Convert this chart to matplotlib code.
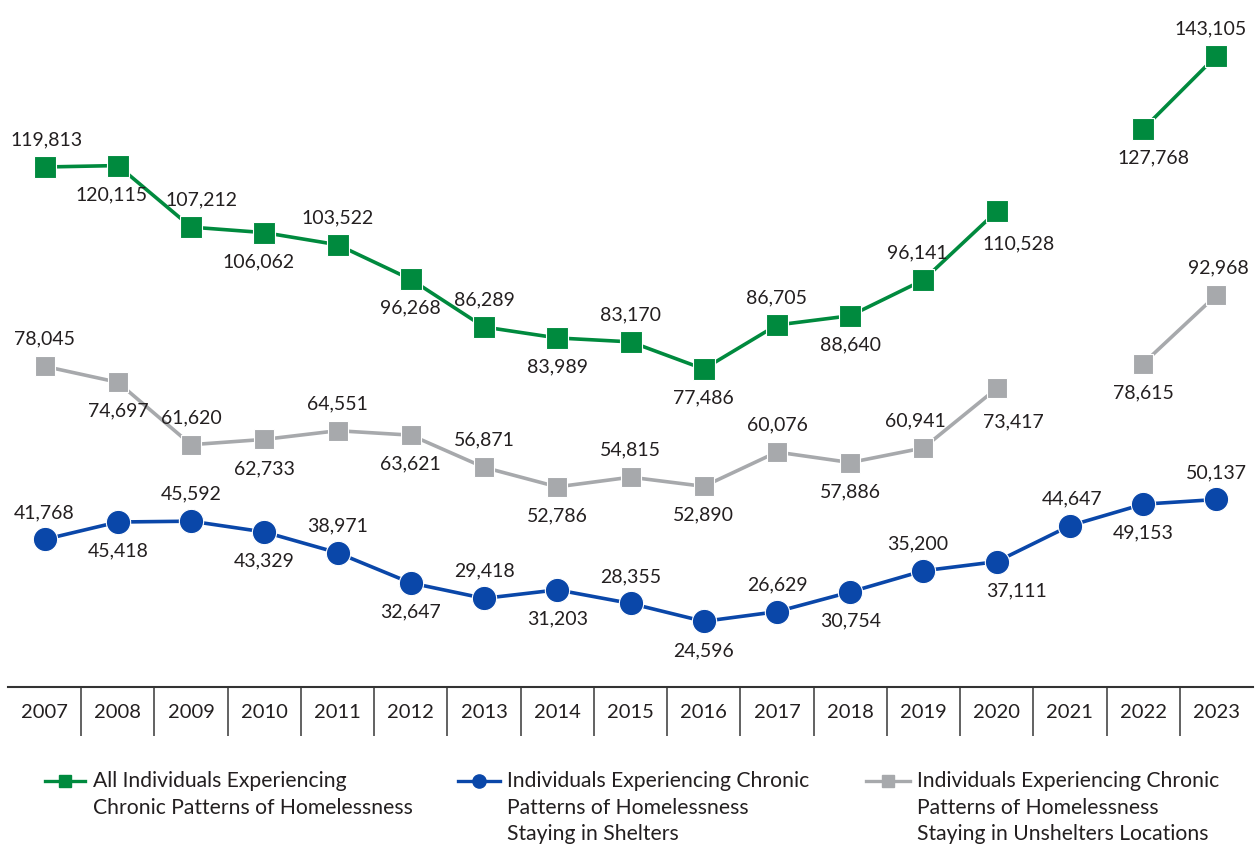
import matplotlib
matplotlib.use("Agg")
import matplotlib.pyplot as plt
from matplotlib.lines import Line2D
import numpy as np

plt.rcParams['font.family'] = ['Lato', 'DejaVu Sans']

years = [str(y) for y in range(2007, 2024)]

all_chronic = [119813, 120115, 107212, 106062, 103522, 96268, 86289, 83989, 83170,
               77486, 86705, 88640, 96141, 110528, None, 127768, 143105]
sheltered = [41768, 45418, 45592, 43329, 38971, 32647, 29418, 31203, 28355,
             24596, 26629, 30754, 35200, 37111, 44647, 49153, 50137]
unsheltered = [78045, 74697, 61620, 62733, 64551, 63621, 56871, 52786, 54815,
               52890, 60076, 57886, 60941, 73417, None, 78615, 92968]

# label placement: a = above, b = below, r = below-right
pos_all = ['a', 'b', 'a', 'b', 'a', 'b', 'a', 'b', 'a', 'b', 'a', 'b', 'a', 'r', None, 'b', 'a']
pos_shel = ['a', 'b', 'a', 'b', 'a', 'b', 'a', 'b', 'a', 'b', 'a', 'b', 'a', 'b', 'a', 'b', 'a']
pos_unsh = ['a', 'b', 'a', 'b', 'a', 'b', 'a', 'b', 'a', 'b', 'a', 'b', 'a', 'r', None, 'b', 'a']

# horizontal nudges of labels (pixels)
dx_all = [2, -6, 10, -6, 0, 0, 0, 0, 0, 0, 0, 0, -6, 0, 0, 10, -6]
dx_shel = [0, 0, 0, 0, 0, 0, 0, 0, 0, 0, 0, 0, -6, 20, 2, 0, 0]
dx_unsh = [0, 0, 0, 0, 0, 0, 0, 0, 0, 0, 0, 0, -8, 0, 0, 0, 2]

legend_labels = [
    "All Individuals Experiencing\nChronic Patterns of Homelessness",
    "Individuals Experiencing Chronic\nPatterns of Homelessness\nStaying in Shelters",
    "Individuals Experiencing Chronic\nPatterns of Homelessness\nStaying in Unshelters Locations",
]

GREEN = '#008A3E'
BLUE = '#0A47A9'
GRAY = '#A7A9AC'
TXT = '#231F20'

W, H = 1259, 844
fig = plt.figure(figsize=(W / 100, H / 100), dpi=100)
ax = fig.add_axes([8 / W, 1 - 687 / H, 1245 / W, 687 / H])
ax.set_xlim(-0.5, 16.5)
ax.set_ylim(10844, 154809)

x = np.arange(len(years))


def to_arr(v):
    return np.array([np.nan if e is None else e for e in v], dtype=float)


series = [
    (all_chronic, pos_all, dx_all, GREEN, 's', 16),
    (unsheltered, pos_unsh, dx_unsh, GRAY, 's', 14.5),
    (sheltered, pos_shel, dx_shel, BLUE, 'o', 17.5),
]

for vals, pos, dxs, col, mk, ms in series:
    arr = to_arr(vals)
    ax.plot(x, arr, color=col, lw=2.6, marker=mk, ms=ms, mfc=col,
            mec='white', mew=0.8, zorder=3)
    for xi, v, p, dx in zip(x, vals, pos, dxs):
        if v is None:
            continue
        s = f"{v:,}"
        if p == 'a':
            ax.annotate(s, (xi, v), xytext=(dx, 27), textcoords='offset pixels',
                        ha='center', va='center', fontsize=14, color=TXT)
        elif p == 'b':
            ax.annotate(s, (xi, v), xytext=(dx, -29), textcoords='offset pixels',
                        ha='center', va='center', fontsize=14, color=TXT)
        else:
            ax.annotate(s, (xi, v), xytext=(-14 + dx, -33), textcoords='offset pixels',
                        ha='left', va='center', fontsize=14, color=TXT)

for sp in ['top', 'right', 'left']:
    ax.spines[sp].set_visible(False)
ax.spines['bottom'].set_color('#333333')
ax.spines['bottom'].set_linewidth(1.5)
ax.set_yticks([])
ax.set_xticks(x)
ax.set_xticklabels(years, fontsize=14.5, color=TXT)
ax.tick_params(axis='x', which='major', length=0, pad=12)
ax.set_xticks(np.arange(0.5, 16, 1), minor=True)
ax.tick_params(axis='x', which='minor', length=35, width=1.3, color='#555555')

# legend
leg = [
    (45, 85, 93, GREEN, 's', 9),
    (458, 500, 507, BLUE, 'o', 9.5),
    (866, 910, 917, GRAY, 's', 9),
]
ly = 781
for (x0, x1, tx, col, mk, ms), lab in zip(leg, legend_labels):
    fig.add_artist(Line2D([x0 / W, x1 / W], [1 - ly / H, 1 - ly / H],
                          transform=fig.transFigure, color=col, lw=2.4))
    fig.add_artist(Line2D([(x0 + x1) / 2 / W], [1 - ly / H], transform=fig.transFigure,
                          color=col, marker=mk, ms=ms, mfc=col, mec=col, lw=0))
    fig.text(tx / W, 1 - 771 / H, lab, ha='left', va='top', fontsize=15.2,
             color=TXT, linespacing=1.42)

fig.savefig('out.png', dpi=100)
